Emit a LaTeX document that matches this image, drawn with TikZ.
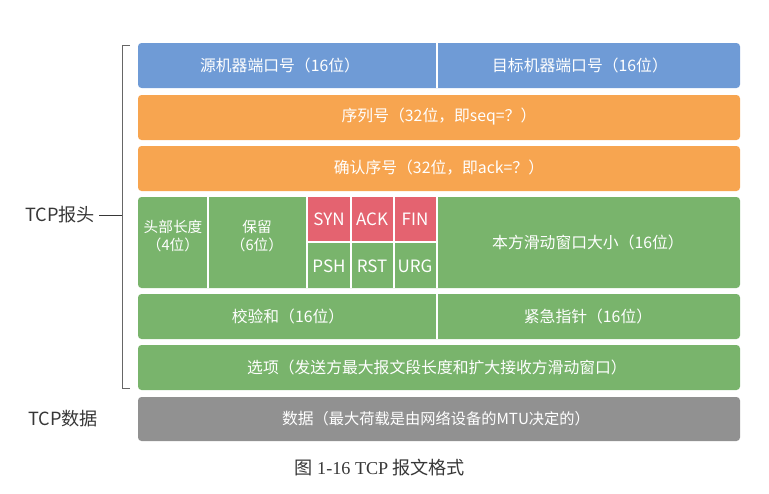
\documentclass[tikz,border=0pt]{standalone}
\usepackage{fontspec}
\setmainfont{Noto Sans CJK SC}
\newfontfamily\serifpart{Liberation Serif}
\usepackage{tikz}

\definecolor{hdrblue}{RGB}{111,155,214}
\definecolor{hdrorange}{RGB}{247,165,80}
\definecolor{hdrgreen}{RGB}{121,180,108}
\definecolor{flagred}{RGB}{228,99,112}
\definecolor{datagray}{RGB}{145,145,145}
\definecolor{labelgray}{RGB}{55,55,55}

\begin{document}
\begin{tikzpicture}[x=0.03cm,y=-0.03cm,
  row/.style={rounded corners=3pt},
  sep/.style={white,line width=1.2pt},
  txt/.style={text=white,font=\fontsize{13.5}{15}\selectfont,align=center},
  small/.style={txt,font=\fontsize{12.5}{15}\selectfont},
  flag/.style={txt,font=\fontsize{14.5}{16}\selectfont},
  side/.style={text=labelgray,font=\fontsize{15.5}{17}\selectfont}]

  \useasboundingbox (0,0) rectangle (769,493);

  % 各行
  \fill[row,hdrblue]   (138,43)  rectangle (740,88);
  \fill[row,hdrorange] (138,95)  rectangle (740,140);
  \fill[row,hdrorange] (138,146) rectangle (740,191);
  \fill[row,hdrgreen]  (138,197) rectangle (740,288);
  \fill[row,hdrgreen]  (138,294) rectangle (740,339);
  \fill[row,hdrgreen]  (138,345) rectangle (740,390);
  \fill[row,datagray]  (138,397) rectangle (740,441);

  % 控制位
  \fill[flagred] (307,197) rectangle (437,242);

  % 区切り線
  \draw[sep] (437,43)  -- (437,88);
  \draw[sep] (437,294) -- (437,339);
  \draw[sep] (208,197) -- (208,288);
  \draw[sep] (307,197) -- (307,288);
  \draw[sep] (351,197) -- (351,288);
  \draw[sep] (394,197) -- (394,288);
  \draw[sep] (437,197) -- (437,288);
  \draw[sep] (307,242) -- (437,242);

  % 文字
  \node[txt] (srcport) at (280,65)  {源机器端口号（16位）};
  \node[txt] (dstport) at (580,65)  {目标机器端口号（16位）};
  \node[txt] (seqno)   at (439,117) {序列号（32位，即seq=？）};
  \node[txt] (ackno)   at (439,168) {确认序号（32位，即ack=？）};
  \node[small] (hlen)  at (173,236) {头部长度\\（4位）};
  \node[small] (resv)  at (257,236) {保留\\（6位）};
  \node[flag] (syn) at (329,219) {SYN};
  \node[flag] (ack) at (372,219) {ACK};
  \node[flag] (fin) at (415,219) {FIN};
  \node[flag] (psh) at (329,266) {PSH};
  \node[flag] (rst) at (372,266) {RST};
  \node[flag] (urg) at (415,266) {URG};
  \node[txt] (window) at (588,242) {本方滑动窗口大小（16位）};
  \node[txt] (chksum) at (288,316) {校验和（16位）};
  \node[txt] (urgptr) at (588,316) {紧急指针（16位）};
  \node[txt] (opts) at (437,367)
    {选项{\fontsize{13.5}{15}\selectfont（发送方最大报文段长度和扩大接收方滑动窗口）}};
  \node[txt] (data) at (436,419)
    {数据{\fontsize{13}{15}\selectfont（最大荷载是由网络设备的MTU决定的）}};

  % 括弧
  \coordinate (brtop) at (130,45);
  \coordinate (brbot) at (130,388);
  \draw[gray!80!black,line width=0.5pt] (brtop) -- ++(-8,0) coordinate (brtl)
    -- (brtl |- brbot) -- (brbot);

  \node[side] (hdrlabel) at (60,215) {TCP报头};
  \draw[labelgray,line width=0.5pt] (hdrlabel.east) -- (hdrlabel.east -| brtl);
  \node[side] (datalabel) at (63,419) {TCP数据};

  % 図題
  \node[text=labelgray,font=\fontsize{15.5}{17}\selectfont] (caption) at (380,468)
    {图 {\serifpart 1-16 TCP} 报文格式};

\end{tikzpicture}
\end{document}
